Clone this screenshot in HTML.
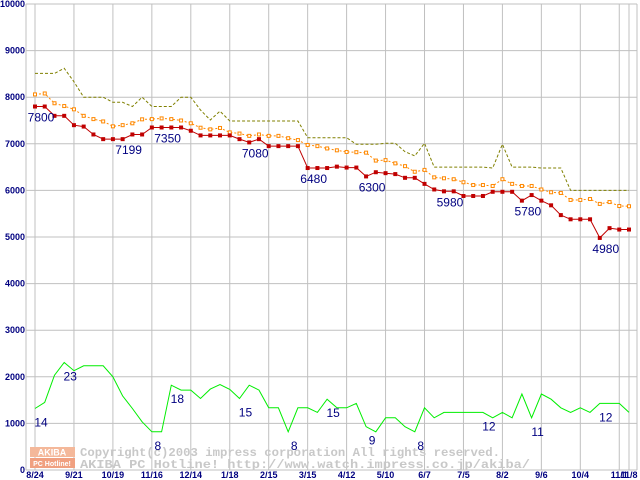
<!DOCTYPE html>
<html><head><meta charset="utf-8">
<style>
html,body{margin:0;padding:0;background:#fff;}
svg{display:block;font-family:"Liberation Sans",sans-serif;}
.tick{font-size:9px;font-weight:bold;fill:#000080;}
.lab{font-size:12px;fill:#000080;}
.wm{font-family:"Liberation Mono",monospace;font-size:12px;font-weight:bold;fill:#c8c8c8;}
</style></head>
<body>
<svg id="chart" width="640" height="480" viewBox="0 0 640 480" xmlns="http://www.w3.org/2000/svg">
<g id="grid"></g>
<g id="wm">
<rect x="30" y="447" width="45" height="10" fill="#f4b89a"/>
<rect x="30" y="458" width="45" height="10" fill="#f0a080"/>
<text x="52" y="455.5" text-anchor="middle" font-size="9" font-weight="bold" fill="#fff">AKIBA</text>
<text x="52" y="466" text-anchor="middle" font-size="7" font-weight="bold" fill="#fff">PC Hotline!</text>
<text class="wm" x="80" y="456" textLength="420" lengthAdjust="spacingAndGlyphs">Copyright(c)2003 impress corporation All rights reserved.</text>
<text class="wm" x="80" y="468" textLength="450" lengthAdjust="spacingAndGlyphs">AKIBA PC Hotline!  http://www.watch.impress.co.jp/akiba/</text>
</g>
<g id="series"></g>
<g id="labels"></g>
</svg>
<script>
const yTicks=[0,1000,2000,3000,4000,5000,6000,7000,8000,9000,10000];
const xTickLabels=["8/24","9/21","10/19","11/16","12/14","1/18","2/15","3/15","4/12","5/10","6/7","7/5","8/2","9/6","10/4","11/1","11/8"];
const xTickIndex=[0,4,8,12,16,20,24,28,32,36,40,44,48,52,56,60,61];
const minPrice=[7800,7800,7600,7600,7400,7370,7200,7100,7100,7100,7200,7200,7350,7350,7350,7350,7280,7180,7180,7180,7180,7100,7030,7100,6950,6950,6950,6950,6480,6480,6480,6510,6490,6490,6300,6390,6370,6350,6270,6270,6140,6020,5980,5980,5880,5880,5880,5970,5970,5970,5780,5900,5780,5680,5470,5380,5380,5380,4980,5190,5160,5160];
const avgPrice=[8060,8080,7870,7810,7740,7600,7530,7480,7375,7400,7440,7525,7530,7545,7530,7500,7440,7345,7310,7340,7245,7220,7170,7200,7170,7170,7120,7080,6975,6950,6900,6860,6825,6820,6810,6640,6650,6580,6520,6400,6440,6280,6260,6240,6175,6115,6115,6095,6240,6140,6095,6095,6020,5960,5945,5795,5795,5815,5710,5750,5665,5660];
const maxPrice=[8510,8510,8510,8620,8330,8000,8000,8000,7890,7890,7800,8000,7800,7800,7800,8000,8000,7725,7510,7700,7490,7490,7490,7490,7490,7490,7490,7490,7130,7130,7130,7130,7130,6990,6990,6990,7010,7010,6830,6740,7010,6500,6500,6500,6500,6500,6500,6480,6990,6500,6500,6500,6480,6480,6480,6000,6000,6000,6000,6000,6000,6000];
const shopCount=[1320,1450,2035,2307,2130,2235,2235,2235,2000,1590,1320,1035,820,820,1820,1715,1715,1535,1735,1835,1730,1535,1820,1715,1335,1335,820,1335,1335,1235,1520,1335,1335,1430,930,820,1120,1120,930,820,1335,1120,1235,1235,1235,1235,1235,1120,1235,1120,1630,1120,1630,1520,1335,1235,1335,1235,1430,1430,1430,1235];
const priceLabelIdx=[0,9,13,22,28,34,42,50,58];
const priceLabelText=["7800","7199","7350","7080","6480","6300","5980","5780","4980"];
const countLabelIdx=[0,3,12,14,21,26,30,34,39,46,51,58];
const countLabelText=["14","23","8","18","15","8","15","9","8","12","11","12"];

const NS="http://www.w3.org/2000/svg";
function xs(i){return 35+i*(594/61);}
function ys(v){return 470-v*0.0466;}
function mk(tag,attrs,parent){const e=document.createElementNS(NS,tag);for(const k in attrs)e.setAttribute(k,attrs[k]);parent.appendChild(e);return e;}
const grid=document.getElementById('grid'),ser=document.getElementById('series'),labs=document.getElementById('labels');

yTicks.forEach(v=>{
 const l=mk('line',{x1:26,x2:637,y1:ys(v),y2:ys(v),stroke:'#c0c0c0','stroke-width':1},grid);
 
 
 const t=mk('text',{x:25,y:ys(v)+3,'text-anchor':'end',class:'tick'},grid);
 t.textContent=String(v);
 
 
});
[26,637].forEach(x=>{
 const l=mk('line',{x1:x,x2:x,y1:ys(10000),y2:470,stroke:'#c0c0c0','stroke-width':1},grid);
 
 
});
xTickIndex.forEach((idx,k)=>{
 const x=xs(idx);
 const l=mk('line',{x1:x,x2:x,y1:ys(10000),y2:470,stroke:'#c0c0c0','stroke-width':1},grid);
 
 
 const t=mk('text',{x:x,y:478,'text-anchor':'middle',class:'tick'},grid);
 t.textContent=xTickLabels[k];
 
 
});

function pts(arr){return arr.map((v,i)=>xs(i).toFixed(1)+','+ys(v).toFixed(1)).join(' ');}
const gl=mk('polyline',{points:pts(shopCount),fill:'none',stroke:'#00ee00','stroke-width':1},ser);


const ml=mk('polyline',{points:pts(maxPrice),fill:'none',stroke:'#808000','stroke-width':1,'stroke-dasharray':'3,2'},ser);


const al=mk('polyline',{points:pts(avgPrice),fill:'none',stroke:'#ff8800','stroke-width':1,'stroke-dasharray':'2,2'},ser);


avgPrice.forEach((v,i)=>{
 const r=mk('rect',{x:xs(i)-1.5,y:ys(v)-1.5,width:3,height:3,fill:'#fff',stroke:'#ff8800','stroke-width':1},ser);
 
 
});
const rl=mk('polyline',{points:pts(minPrice),fill:'none',stroke:'#c00000','stroke-width':1},ser);


minPrice.forEach((v,i)=>{
 const r=mk('rect',{x:xs(i)-2,y:ys(v)-2,width:4,height:4,fill:'#c00000'},ser);
 
 
});
priceLabelIdx.forEach((idx,k)=>{
 const t=mk('text',{x:xs(idx)+6,y:ys(minPrice[idx])+15,'text-anchor':'middle',class:'lab'},labs);
 t.textContent=priceLabelText[k];
 
 
});
countLabelIdx.forEach((idx,k)=>{
 const t=mk('text',{x:xs(idx)+6,y:ys(shopCount[idx])+18,'text-anchor':'middle',class:'lab'},labs);
 t.textContent=countLabelText[k];
 
 
});
</script>
</body></html>
